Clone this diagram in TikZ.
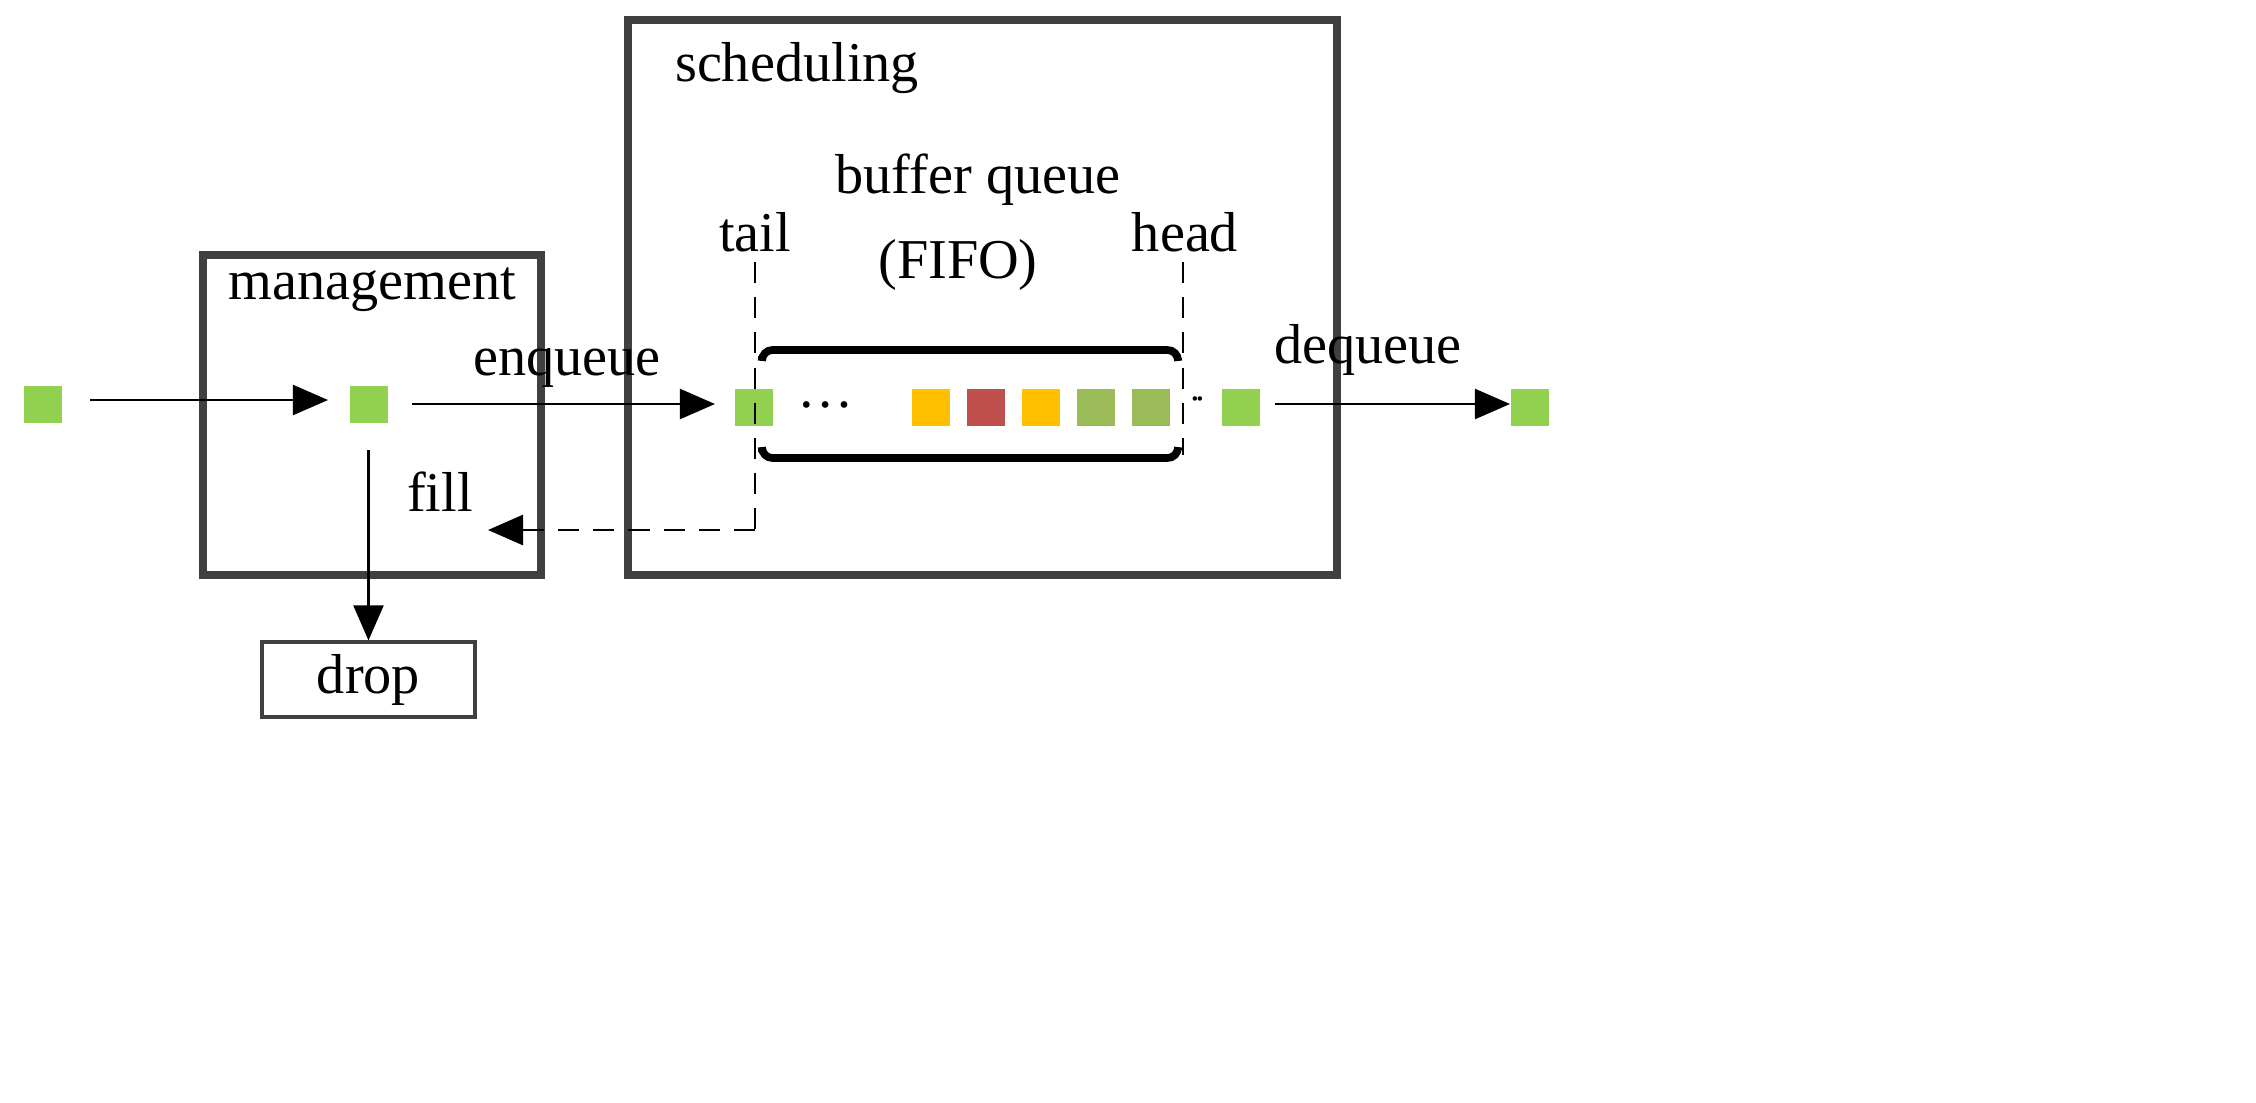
\documentclass[tikz,border=0pt]{standalone}
\usepackage{fontspec}
\setmainfont{Liberation Serif}
\usetikzlibrary{arrows.meta,calc}
\definecolor{pg}{HTML}{92D050}
\definecolor{po}{HTML}{FFC000}
\definecolor{pr}{HTML}{C0504D}
\definecolor{pv}{HTML}{9BBB59}
\definecolor{bx}{HTML}{404040}
\begin{document}
\begin{tikzpicture}[x=0.01cm,y=-0.01cm,
  pk/.style={minimum size=0.37cm,inner sep=0,draw=none,fill=#1},
  big/.style={draw=bx,line width=2.2pt},
  lbl/.style={font=\fontsize{16}{19}\selectfont,inner sep=0},
  arr/.style={-{Triangle[length=0.35cm,width=0.3cm]},line width=0.6pt},
  dsh/.style={dashed,dash pattern=on 6pt off 4pt,line width=0.8pt}]
\useasboundingbox (0,0) rectangle (2256,1102);
% boxes
\node[big,minimum width=3.38cm,minimum height=3.2cm,inner sep=0] (mgmt) at (372,415) {};
\node[big,minimum width=7.09cm,minimum height=5.55cm,inner sep=0] (sched) at (982.5,297.5) {};
\node[draw=bx,line width=0.9pt,minimum width=2.13cm,minimum height=0.75cm,lbl] (drop) at (368.5,679.5) {drop};
\node[lbl] (tmg) at (372,290) {management};
\node[lbl] (tsc) at (797,68) {scheduling};
\node[lbl] (tbq) at (978,180) {buffer queue};
\node[lbl] (tff) at (958,265) {(FIFO)};
\node[lbl] (ttl) at (755,232) {tail};
\node[lbl] (thd) at (1185,232) {head};
\node[lbl] (tenq) at (567,368) {enqueue};
\node[lbl] (tdeq) at (1368,350) {dequeue};
\node[lbl] (tfill) at (440,492) {fill};
% packets
\node[pk=pg] (p0) at (43,404) {};
\node[pk=pg] (p1) at (369,404) {};
\node[pk=pg] (p2) at (754,407) {};
\node[lbl] (dots1) at (826,405) {\dots};
\node[pk=po] (q1) at (931,407) {};
\node[pk=pr] (q2) at (986,407) {};
\node[pk=po] (q3) at (1041,407) {};
\node[pk=pv] (q4) at (1096,407) {};
\node[pk=pv] (q5) at (1151,407) {};
\node[lbl,font=\fontsize{12}{14}\selectfont] (dots2) at (1198,400) {$\cdot\!\cdot$};
\node[pk=pg] (p3) at (1241,407) {};
\node[pk=pg] (p4) at (1530,407) {};
% queue rails
\coordinate (rt1) at (762,356); \coordinate (rt2) at (1178,358);
\coordinate (rb1) at (762,452); \coordinate (rb2) at (1178,450);
\draw[line width=2.2pt,rounded corners=3pt] (rt1) -- ++(0,-6) -- ($(rt2)+(0,-8)$) -- (rt2);
\draw[line width=2.2pt,rounded corners=3pt] (rb1) -- ++(0,6) -- ($(rb2)+(0,8)$) -- (rb2);
% arrows
\coordinate (a0) at (90,400); \coordinate (a1) at (328,400);
\draw[arr] (a0) -- (a1);
\coordinate (b0) at (412,404); \coordinate (b1) at (715,404);
\draw[arr] (b0) -- (b1);
\coordinate (c0) at (1275,404); \coordinate (c1) at (1510,404);
\draw[arr] (c0) -- (c1);
\coordinate (d0) at (368.5,450);
\draw[arr] (d0) -- (drop.north);
% dashed
\coordinate (tl0) at (755,262); \coordinate (tl1) at (755,530); \coordinate (fl) at (488,530);
\draw[dsh] (tl0) -- (tl1);
\draw[dsh,-{Triangle[length=0.35cm,width=0.3cm]}] (tl1) -- (fl);
\coordinate (hd0) at (1183,262); \coordinate (hd1) at (1183,455);
\draw[dsh] (hd0) -- (hd1);
\end{tikzpicture}
\end{document}
